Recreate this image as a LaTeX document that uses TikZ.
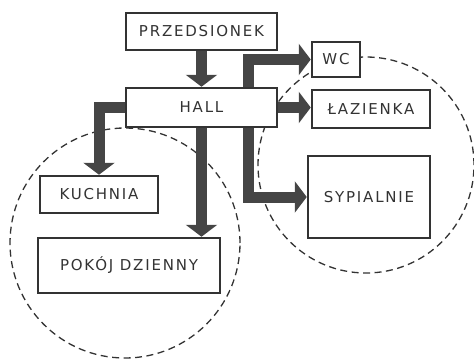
\documentclass[tikz,border=0pt]{standalone}
\usepackage{fontspec}
\setmainfont{DejaVu Sans}[LetterSpace=12]
\usepackage{xcolor}
\usetikzlibrary{arrows.meta,positioning}
\definecolor{plandark}{rgb}{0.20,0.20,0.20}
\definecolor{planbar}{rgb}{0.27,0.27,0.27}

\begin{document}
\begin{tikzpicture}[
  x=1pt, y=-1pt,
  room/.style={draw=plandark, line width=2.5pt, fill=white, inner sep=0pt,
    text=plandark, font=\fontsize{15}{18}\selectfont},
  bar/.style={draw=planbar, line width=11pt, line join=miter,
    -{Triangle[length=12pt,width=31pt]}},
  zone/.style={draw=plandark, line width=1.3pt, dash pattern=on 7pt off 4.5pt}
]
\useasboundingbox (0,0) rectangle (474,359);

% day zone and night zone
\draw[zone] (125,243) circle[radius=115pt];
\draw[zone] (366,165) circle[radius=108pt];

% rooms
\node[room, minimum width=151pt, minimum height=37pt] (prz) at (201.5,31.5) {PRZEDSIONEK};
\node[room, minimum width=151pt, minimum height=39pt] (hall) at (201.5,107.5) {HALL};
\node[room, minimum width=48pt, minimum height=35pt] (wc) at (336,59.5) {WC};
\node[room, minimum width=118pt, minimum height=38pt] (laz) at (371,109) {ŁAZIENKA};
\node[room, minimum width=122pt, minimum height=82pt] (syp) at (369,197) {SYPIALNIE};
\node[room, minimum width=118pt, minimum height=37pt] (kuch) at (99,194.5) {KUCHNIA};
\node[room, minimum width=182pt, minimum height=55pt] (pok) at (129,265.5) {POKÓJ DZIENNY};

% circulation
\coordinate (hallR) at (248,107.5);
\draw[bar] (prz.south) -- (hall.north);
\draw[bar] (hallR |- hall.north) |- (wc.west);
\draw[bar] (hall.east) -- (hall.east -| laz.west);
\draw[bar] (hallR |- hall.south) |- (syp.west);
\draw[bar] (hall.west) -| (kuch.north);
\draw[bar] (hall.south) -- (hall.south |- pok.north);
\end{tikzpicture}
\end{document}
